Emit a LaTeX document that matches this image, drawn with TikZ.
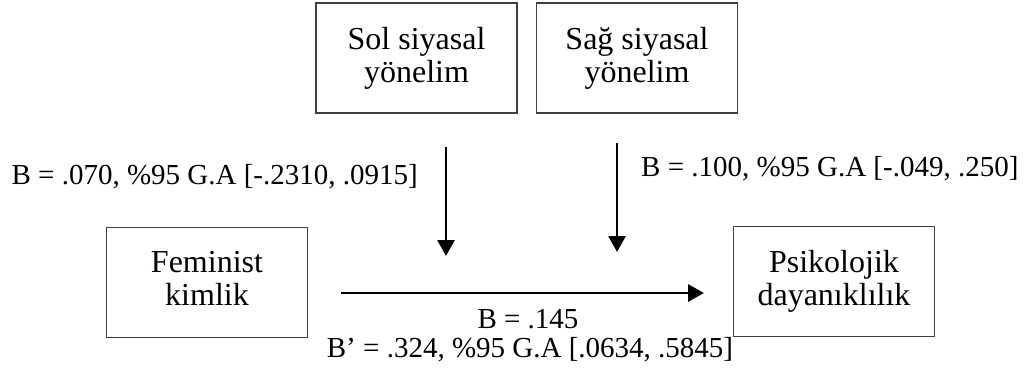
\documentclass[tikz,border=0pt]{standalone}
\usepackage{fontspec}
\setmainfont{Liberation Serif}
\usepackage{tikz}
\usetikzlibrary{arrows.meta, positioning}
\tikzstyle{arrow} = [line width=2.8pt,-{Triangle[length=16pt,width=17pt]}]
\tikzstyle{varbox} = [rectangle, draw=black!75, line width=1.4pt, minimum width=201pt, minimum height=110pt, text centered, align=center, font=\fontsize{32}{33}\selectfont]
\tikzstyle{coef} = [inner sep=0pt, font=\fontsize{29}{33}\selectfont]

\begin{document}
\begin{tikzpicture}[x=1pt, y=-1pt]
\useasboundingbox (0,0) rectangle (1035,374);
%----------------------------------------------------------------------------
% Variables
\node (solYon) [varbox] at (416.5,58) {Sol siyasal\\yönelim};
\node (sagYon) [varbox] at (637,58) {Sağ siyasal\\yönelim};
\node (femKim) [varbox, text depth=8pt] at (207,282.5) {Feminist\\kimlik};
\node (psiDay) [varbox, text depth=8pt] at (834,281.5) {Psikolojik\\dayanıklılık};

%----------------------------------------------------------------------------
% Arrow ends
\coordinate (solTop) at (446,147);
\coordinate (solTip) at (446,256);
\coordinate (sagTop) at (617,143);
\coordinate (sagTip) at (617,252);
\coordinate (pathStart) at (341,293);
\coordinate (pathTip) at (704,293);

%----------------------------------------------------------------------------
% Lines
\draw [arrow] (solTop) -- (solTip);
\draw [arrow] (sagTop) -- (sagTip);
\draw [arrow] (pathStart) -- (pathTip);

%----------------------------------------------------------------------------
% Coefficients
\node (solCoef) [coef, anchor=east] at (418,177) {B = .070, \%95 G.A [-.2310, .0915]};
\node (sagCoef) [coef, anchor=west] at (641,169) {B = .100, \%95 G.A [-.049, .250]};
\node (totCoef) [coef] at (528,319) {B = .145};
\node (indCoef) [coef] at (530,350) {B’ = .324, \%95 G.A [.0634, .5845]};
\end{tikzpicture}
\end{document}
